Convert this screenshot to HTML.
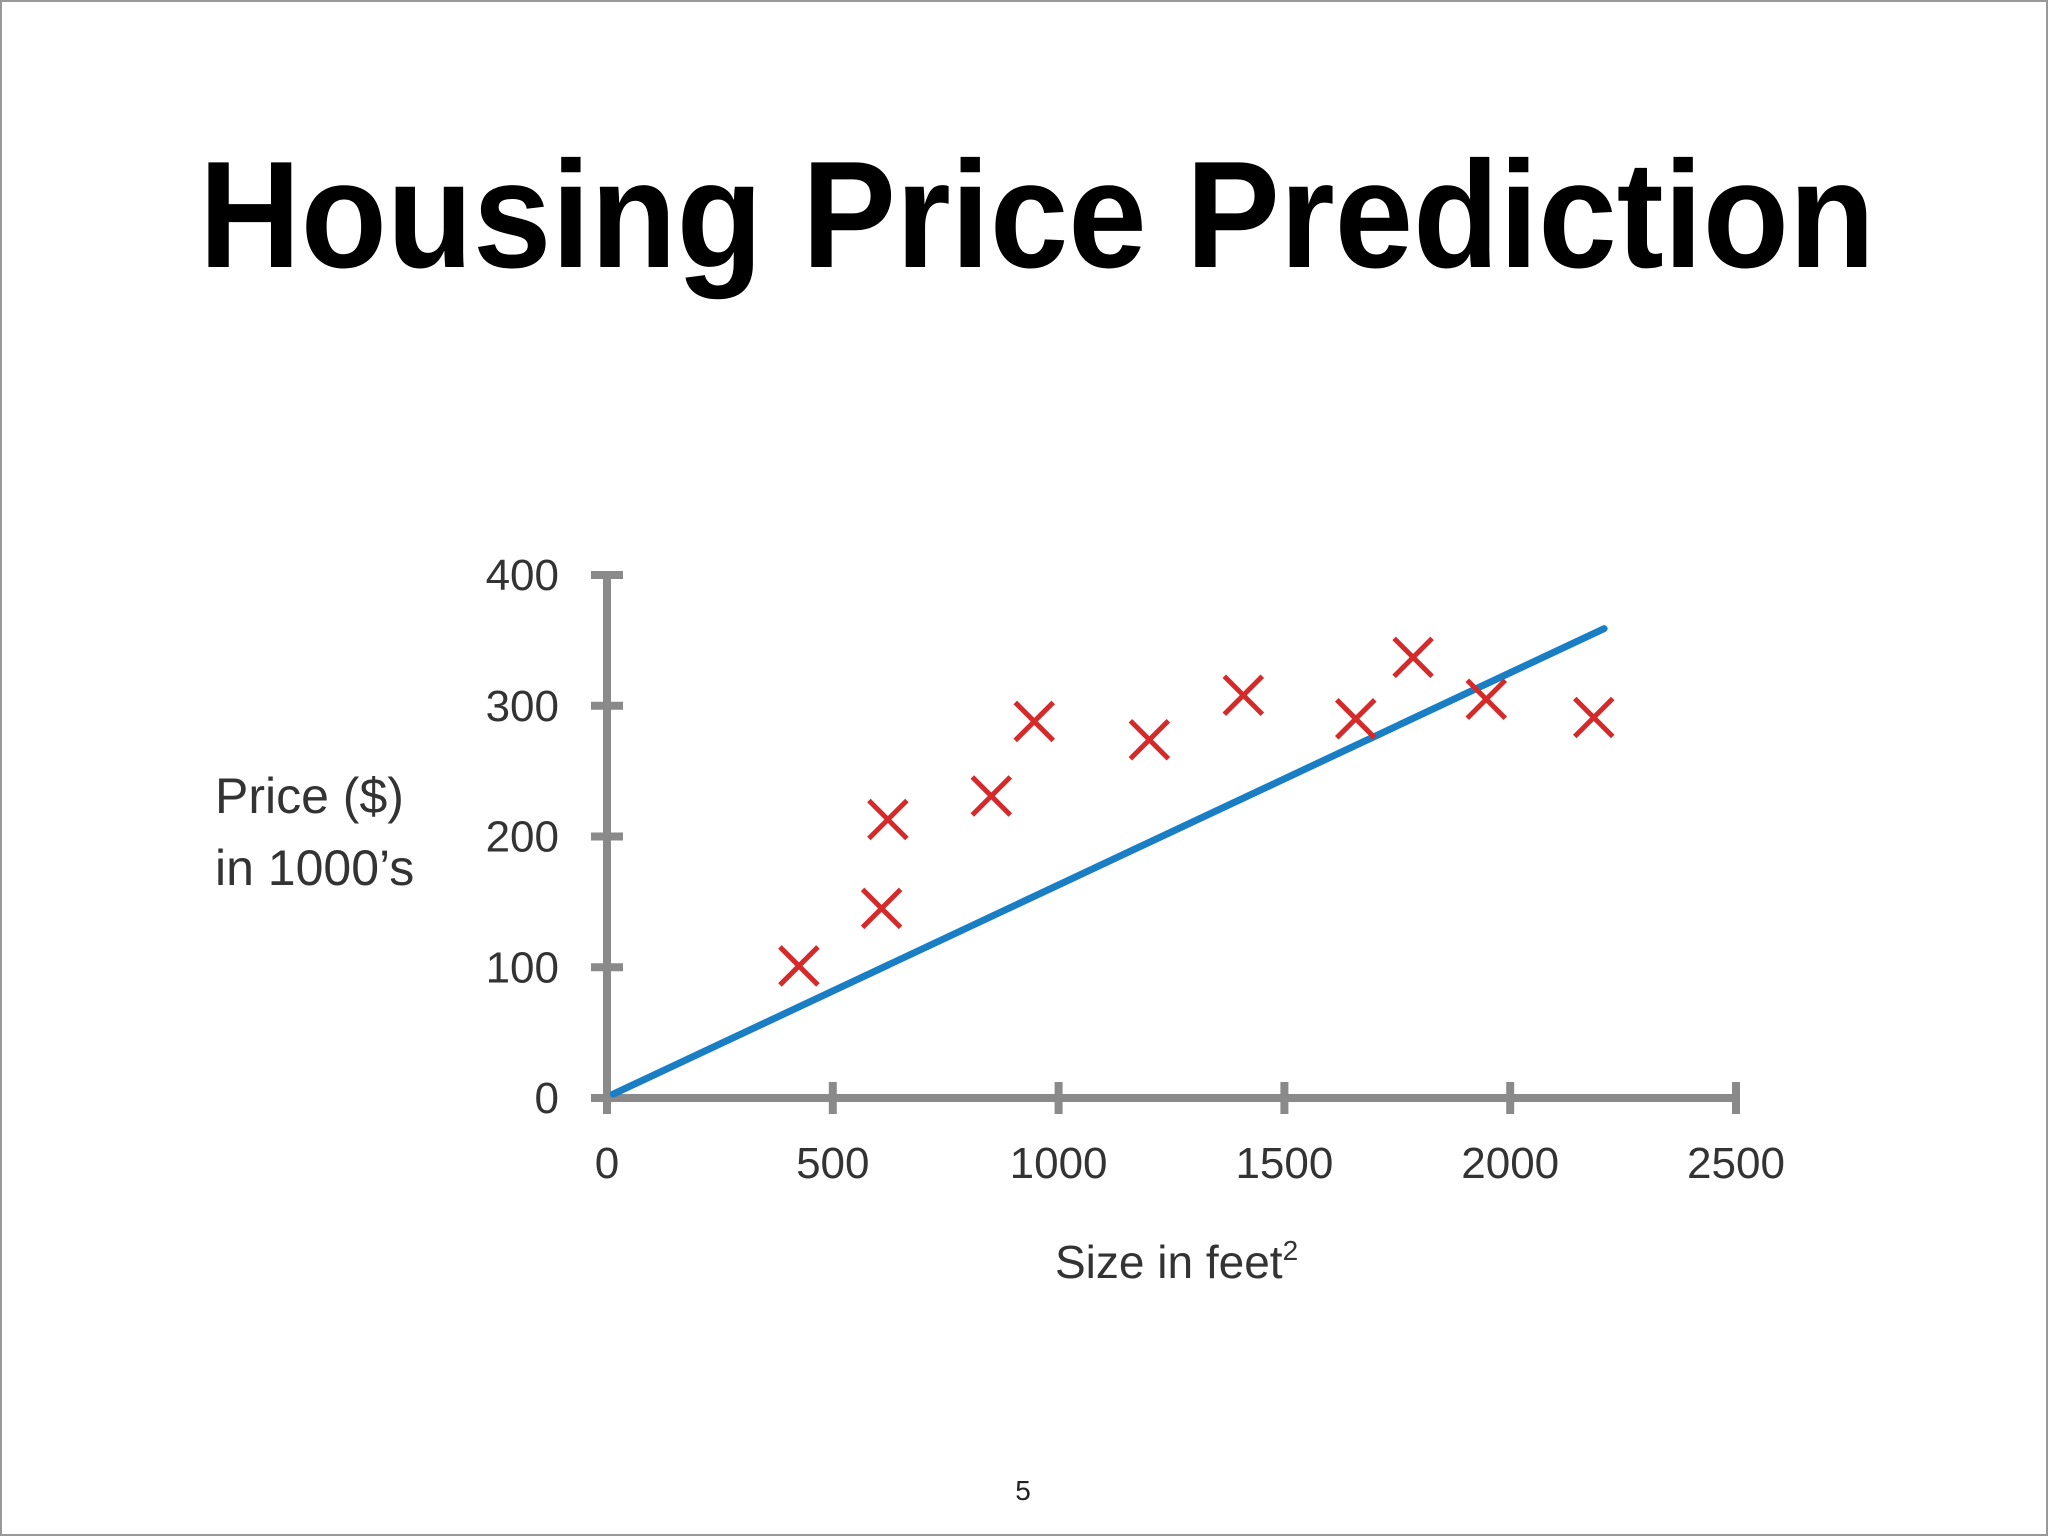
<!DOCTYPE html>
<html><head><meta charset="utf-8"><style>
html,body{margin:0;padding:0;background:#fff;}
svg{display:block;}
</style></head><body>
<svg id="chart" width="2048" height="1536" viewBox="0 0 2048 1536" xmlns="http://www.w3.org/2000/svg">
<rect x="1" y="1" width="2046" height="1534" fill="#fff" stroke="#999" stroke-width="2"/>
<text x="1037" y="267" text-anchor="middle" font-family="Liberation Sans, sans-serif" font-weight="bold" font-size="152" textLength="1676" lengthAdjust="spacingAndGlyphs" fill="#000">Housing Price Prediction</text>
<g id="axes"></g>
<g id="marks"></g>
<text x="215" y="813" font-family="Liberation Sans, sans-serif" font-size="50" fill="#333">Price ($)</text>
<text x="215" y="885" font-family="Liberation Sans, sans-serif" font-size="50" fill="#333">in 1000’s</text>
<text x="1055" y="1278" font-family="Liberation Sans, sans-serif" font-size="46" fill="#333">Size in feet<tspan font-size="28" dy="-18">2</tspan></text>
<text x="1023" y="1500" text-anchor="middle" font-family="Liberation Sans, sans-serif" font-size="28" fill="#222">5</text>
</svg>
<script>
const xTicks = [0, 500, 1000, 1500, 2000, 2500];
const yTicks = [0, 100, 200, 300, 400];
const sizes = [425, 608, 622, 851, 946, 1201, 1409, 1658, 1785, 1947, 2185];
const prices = [101, 145, 213, 231, 288, 274, 308, 290, 337, 305, 291];
const fitX = [14, 2208];
const fitY = [3, 359];

const NS = 'http://www.w3.org/2000/svg';
const X = v => 607 + (v / 2500) * 1129;
const Y = v => 1098 - (v / 400) * 523;
function mk(tag, attrs, parent) {
  const e = document.createElementNS(NS, tag);
  for (const k in attrs) e.setAttribute(k, attrs[k]);
  parent.appendChild(e);
  return e;
}
const axes = document.getElementById('axes');
const marks = document.getElementById('marks');
const grey = '#8a8a8a';
let a = mk('line', {x1: X(0), y1: Y(0), x2: X(2500), y2: Y(0), stroke: grey, 'stroke-width': 8}, axes);


a = mk('line', {x1: X(0), y1: Y(0) + 4, x2: X(0), y2: Y(400), stroke: grey, 'stroke-width': 8}, axes);


xTicks.forEach(t => {
  const l = mk('line', {x1: X(t), y1: Y(0) - 16, x2: X(t), y2: Y(0) + 16, stroke: grey, 'stroke-width': 8}, axes);
  
  
  const tx = mk('text', {x: X(t), y: Y(0) + 80, 'text-anchor': 'middle', 'font-family': 'Liberation Sans, sans-serif', 'font-size': 44, fill: '#333'}, axes);
  tx.textContent = t;
  
  
});
yTicks.forEach(t => {
  const l = mk('line', {x1: X(0) - 16, y1: Y(t), x2: X(0) + 16, y2: Y(t), stroke: grey, 'stroke-width': 8}, axes);
  
  
  const tx = mk('text', {x: X(0) - 48, y: Y(t) + 15, 'text-anchor': 'end', 'font-family': 'Liberation Sans, sans-serif', 'font-size': 44, fill: '#333'}, axes);
  tx.textContent = t;
  
  
});
const fit = mk('line', {x1: X(fitX[0]), y1: Y(fitY[0]), x2: X(fitX[1]), y2: Y(fitY[1]), stroke: '#1a7ec4', 'stroke-width': 7, 'stroke-linecap': 'round'}, marks);


const r = 19;
sizes.forEach((s, i) => {
  const cx = X(s), cy = Y(prices[i]);
  const g = mk('path', {d: `M${cx - r},${cy - r}L${cx + r},${cy + r}M${cx + r},${cy - r}L${cx - r},${cy + r}`, stroke: '#d42a2a', 'stroke-width': 5, fill: 'none'}, marks);
  
  
});
</script>
</body></html>
